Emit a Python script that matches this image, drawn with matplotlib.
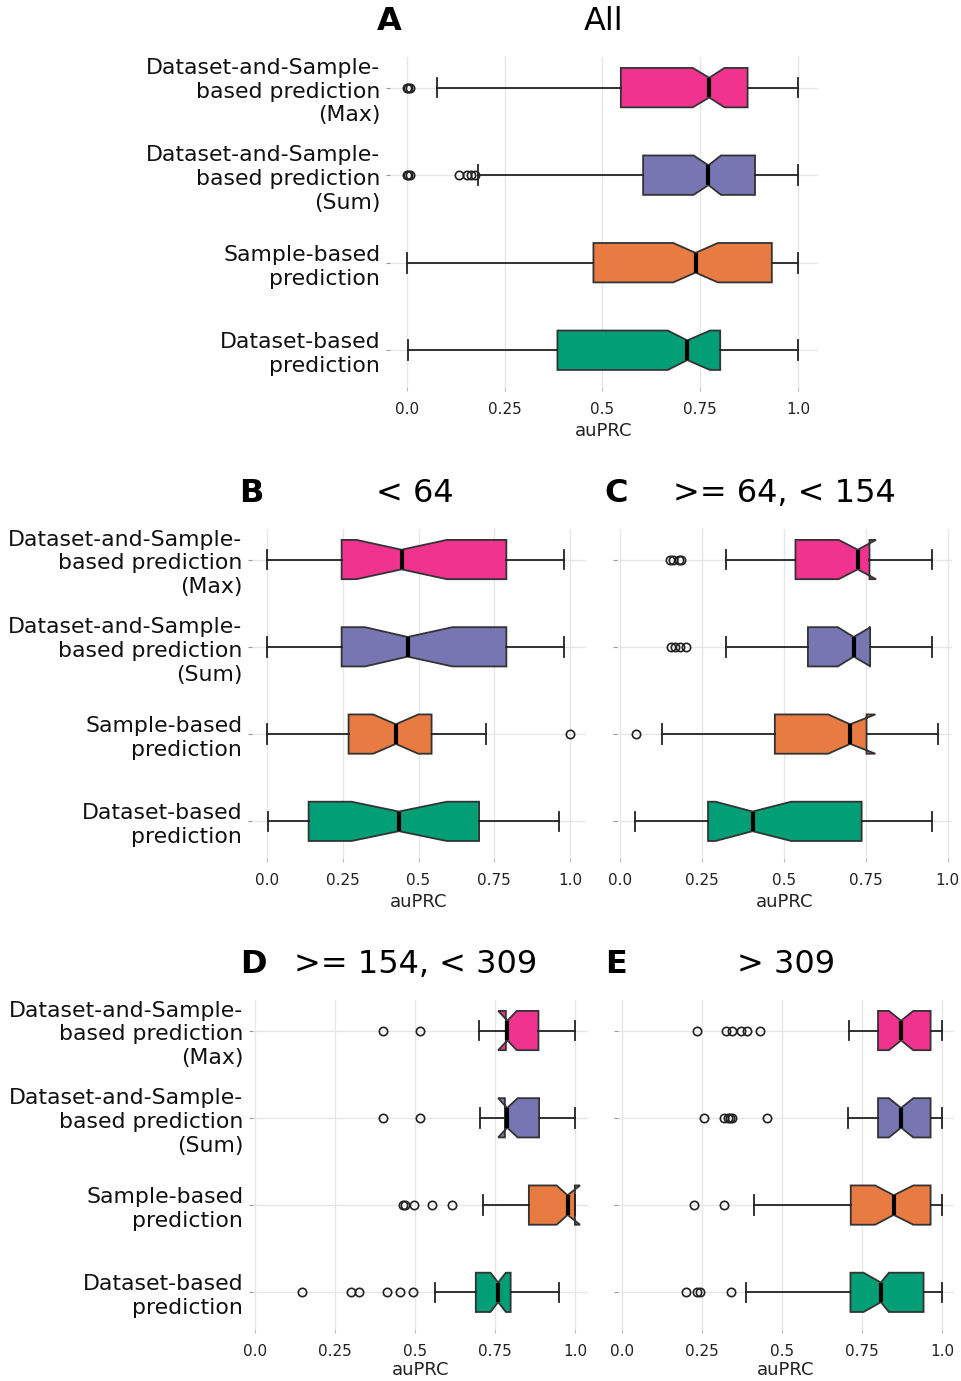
import matplotlib
matplotlib.use("Agg")
import matplotlib.pyplot as plt

# method names, top to bottom
methods = [
    "Dataset-and-Sample-\nbased prediction\n(Max)",
    "Dataset-and-Sample-\nbased prediction\n(Sum)",
    "Sample-based\nprediction",
    "Dataset-based\nprediction",
]
colors = ["#f0338e", "#7875b3", "#e77b42", "#029e75"]

panel_letters = ["A", "B", "C", "D", "E"]
panel_titles = ["All", "< 64", ">= 64, < 154", ">= 154, < 309", "> 309"]

# per-panel box statistics (rows: panels A-E, cols: methods)
q1 = [
    [0.547, 0.604, 0.477, 0.385],
    [0.246, 0.246, 0.269, 0.137],
    [0.535, 0.573, 0.472, 0.268],
    [0.784, 0.781, 0.856, 0.690],
    [0.799, 0.799, 0.714, 0.713],
]
medians = [
    [0.773, 0.771, 0.738, 0.717],
    [0.444, 0.464, 0.425, 0.435],
    [0.725, 0.713, 0.702, 0.404],
    [0.789, 0.788, 0.977, 0.760],
    [0.871, 0.871, 0.848, 0.808],
]
q3 = [
    [0.871, 0.890, 0.933, 0.801],
    [0.790, 0.790, 0.543, 0.700],
    [0.761, 0.763, 0.752, 0.737],
    [0.886, 0.888, 1.000, 0.799],
    [0.963, 0.963, 0.963, 0.941],
]
notch_lo = [
    [0.731, 0.733, 0.681, 0.667],
    [0.295, 0.323, 0.350, 0.279],
    [0.667, 0.664, 0.635, 0.291],
    [0.760, 0.760, 0.943, 0.736],
    [0.833, 0.833, 0.790, 0.754],
]
notch_hi = [
    [0.812, 0.803, 0.795, 0.775],
    [0.593, 0.612, 0.499, 0.593],
    [0.781, 0.764, 0.779, 0.522],
    [0.818, 0.821, 1.016, 0.784],
    [0.909, 0.909, 0.909, 0.833],
]
whisker_lo = [
    [0.077, 0.181, 0.000, 0.003],
    [0.000, 0.000, 0.000, 0.002],
    [0.323, 0.323, 0.128, 0.046],
    [0.701, 0.703, 0.711, 0.562],
    [0.709, 0.705, 0.411, 0.387],
]
whisker_hi = [
    [1.000, 1.000, 1.000, 1.000],
    [0.980, 0.980, 0.722, 0.963],
    [0.953, 0.953, 0.969, 0.953],
    [1.000, 1.000, 1.000, 0.951],
    [1.000, 1.000, 1.000, 1.000],
]
outliers = [
    [[0.0, 0.004, 0.008], [0.0, 0.004, 0.008, 0.134, 0.155, 0.165, 0.175], [], []],
    [[], [], [1.0], []],
    [[0.151, 0.162, 0.180, 0.185], [0.154, 0.166, 0.183, 0.202], [0.047], []],
    [[0.401, 0.516], [0.401, 0.515],
     [0.463, 0.470, 0.496, 0.553, 0.615],
     [0.145, 0.301, 0.325, 0.412, 0.452, 0.493]],
    [[0.235, 0.325, 0.343, 0.373, 0.391, 0.431],
     [0.255, 0.320, 0.330, 0.338, 0.345, 0.453],
     [0.225, 0.319],
     [0.201, 0.233, 0.244, 0.341]],
]

tick_values = [0.0, 0.25, 0.5, 0.75, 1.0]
tick_labels = ["0.0", "0.25", "0.5", "0.75", "1.0"]

W, H = 961, 1381
fig = plt.figure(figsize=(W / 100, H / 100), dpi=100)

# axes boxes in pixels: left, top, right, bottom ; plus x range
boxes = [
    (390, 57, 818, 387),
    (252, 529, 586, 858),
    (617, 529, 952, 858),
    (253, 1000, 588, 1329),
    (618, 1000, 954, 1329),
]
xlims = [(-0.043, 1.051), (-0.05, 1.053), (-0.01, 1.013),
         (-0.007, 1.041), (-0.012, 1.036)]
show_names = [True, True, False, True, False]
title_shift = [0, -4, 0, -5, 0]
xlabel_pad = [4, 4, 4, 2, 2]


def make_axes(left, top, right, bottom):
    return fig.add_axes([left / W, 1 - bottom / H,
                         (right - left) / W, (bottom - top) / H])


for p in range(5):
    ax = make_axes(*boxes[p])
    stats = []
    for m in range(4):
        stats.append(dict(med=medians[p][m], q1=q1[p][m], q3=q3[p][m],
                          whislo=whisker_lo[p][m], whishi=whisker_hi[p][m],
                          cilo=notch_lo[p][m], cihi=notch_hi[p][m],
                          fliers=outliers[p][m]))
    art = ax.bxp(stats, positions=range(4), widths=0.45,
                 orientation="horizontal", shownotches=True, patch_artist=True,
                 boxprops=dict(edgecolor="#333333", linewidth=1.3),
                 whiskerprops=dict(color="#222222", linewidth=1.3),
                 capprops=dict(color="#222222", linewidth=1.3),
                 medianprops=dict(color="black", linewidth=3),
                 flierprops=dict(marker="o", markersize=6,
                                 markerfacecolor="none",
                                 markeredgecolor="#222222",
                                 markeredgewidth=1.2))
    for patch, c in zip(art["boxes"], colors):
        patch.set_facecolor(c)

    ax.set_xlim(*xlims[p])
    ax.set_ylim(3.42, -0.35)
    ax.set_xticks(tick_values, tick_labels)
    ax.set_yticks(range(4))
    if show_names[p]:
        ax.set_yticklabels(methods, fontsize=15.8, linespacing=1.24)
    else:
        ax.set_yticklabels([])
    ax.tick_params(axis="x", labelsize=11, length=3, color="#bbbbbb",
                   pad=7.5, labelcolor="#222222")
    ax.tick_params(axis="y", length=3, color="#999999", pad=4,
                   labelcolor="#111111")
    ax.grid(True, color="#e6e6e6", linewidth=1)
    ax.set_axisbelow(True)
    for s in ax.spines.values():
        s.set_visible(False)
    ax.set_xlabel("auPRC", fontsize=13, labelpad=xlabel_pad[p],
                  color="#222222")

    # centred title and bold panel letter, both 27 px above the axes
    ax.annotate(panel_titles[p], xy=(0.5, 1), xycoords="axes fraction",
                xytext=(title_shift[p], 27), textcoords="offset pixels",
                ha="center", va="baseline", fontsize=23)
    ax.annotate(panel_letters[p], xy=(0, 1), xycoords="axes fraction",
                xytext=(-13, 27), textcoords="offset pixels",
                ha="left", va="baseline", fontsize=23, fontweight="bold")

fig.savefig("out.png", dpi=100, facecolor="white")
